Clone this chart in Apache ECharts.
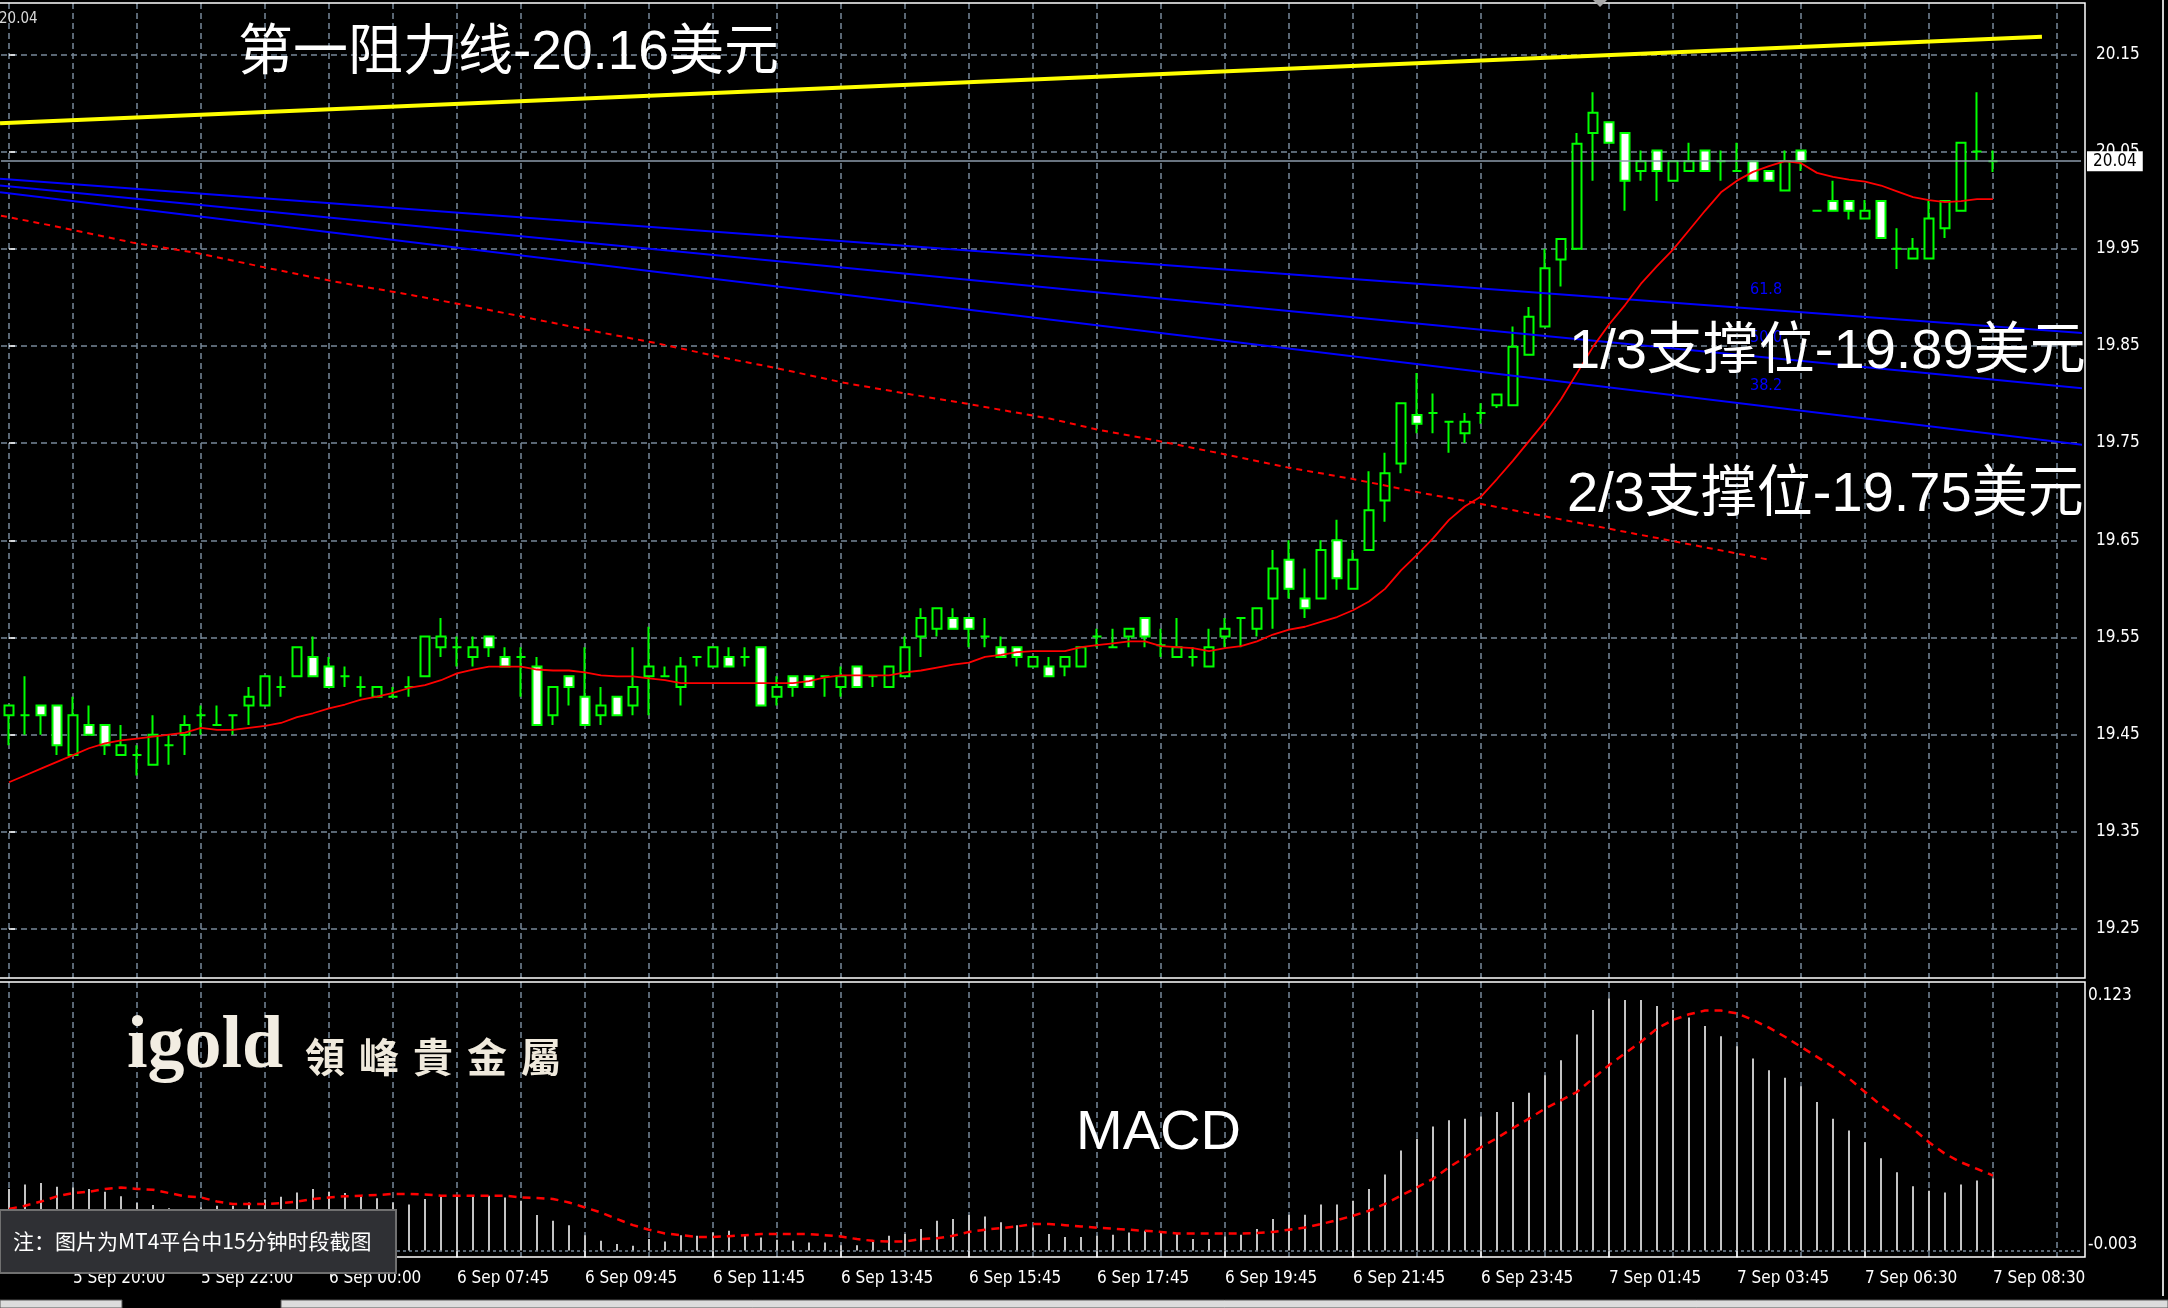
<!DOCTYPE html>
<html><head><meta charset="utf-8">
<script src="https://cdn.jsdelivr.net/npm/echarts@6/dist/echarts.min.js"></script>
<style>html,body{margin:0;padding:0;background:#000;}#c{width:2168px;height:1308px;}</style>
</head><body><div id="c"></div>
<script>
// ---------------- data ----------------
const timeLabels = ['5 Sep 20:00','5 Sep 22:00','6 Sep 00:00','6 Sep 07:45','6 Sep 09:45','6 Sep 11:45','6 Sep 13:45','6 Sep 15:45','6 Sep 17:45','6 Sep 19:45','6 Sep 21:45','6 Sep 23:45','7 Sep 01:45','7 Sep 03:45','7 Sep 06:30','7 Sep 08:30'];
const labelFirst = 4, labelStep = 8, nCats = 130;
const priceTicks = [19.25,19.35,19.45,19.55,19.65,19.75,19.85,19.95,20.05,20.15];
const priceMin = 19.1996, priceMax = 20.2028;
const currentPrice = 20.04;
const macdMin = -0.003, macdMax = 0.123;
const macdLabels = [0.123, -0.003];
// [open, close, low, high]
const candles = [
[19.470,19.480,19.439,19.480],[19.470,19.470,19.450,19.510],[19.480,19.470,19.450,19.480],[19.480,19.439,19.429,19.480],
[19.429,19.470,19.429,19.489],[19.460,19.450,19.450,19.480],[19.460,19.439,19.429,19.460],[19.429,19.439,19.429,19.460],
[19.429,19.429,19.408,19.439],[19.419,19.450,19.419,19.470],[19.439,19.439,19.419,19.450],[19.450,19.460,19.429,19.470],
[19.470,19.470,19.450,19.480],[19.460,19.460,19.460,19.480],[19.470,19.470,19.450,19.470],[19.480,19.489,19.460,19.499],
[19.480,19.510,19.480,19.510],[19.499,19.499,19.489,19.510],[19.510,19.540,19.510,19.540],[19.530,19.510,19.510,19.551],
[19.520,19.499,19.499,19.530],[19.510,19.510,19.499,19.520],[19.499,19.499,19.489,19.510],[19.489,19.499,19.489,19.499],
[19.489,19.489,19.489,19.499],[19.499,19.499,19.489,19.510],[19.510,19.551,19.510,19.551],[19.540,19.551,19.530,19.570],
[19.540,19.540,19.520,19.551],[19.530,19.540,19.520,19.551],[19.551,19.540,19.530,19.551],[19.530,19.520,19.520,19.540],
[19.530,19.530,19.489,19.540],[19.520,19.460,19.460,19.530],[19.470,19.499,19.460,19.499],[19.510,19.499,19.480,19.510],
[19.489,19.460,19.460,19.540],[19.470,19.480,19.460,19.499],[19.489,19.470,19.470,19.489],[19.480,19.499,19.470,19.540],
[19.510,19.520,19.470,19.561],[19.510,19.510,19.510,19.520],[19.499,19.520,19.480,19.530],[19.530,19.530,19.520,19.530],
[19.520,19.540,19.520,19.540],[19.530,19.520,19.520,19.540],[19.530,19.530,19.520,19.540],[19.540,19.480,19.480,19.540],
[19.489,19.499,19.480,19.510],[19.510,19.499,19.489,19.510],[19.510,19.499,19.499,19.510],[19.510,19.510,19.489,19.510],
[19.499,19.510,19.489,19.520],[19.520,19.499,19.499,19.520],[19.510,19.510,19.499,19.510],[19.499,19.520,19.499,19.520],
[19.510,19.540,19.510,19.551],[19.551,19.570,19.530,19.580],[19.559,19.580,19.551,19.580],[19.570,19.559,19.559,19.580],
[19.570,19.559,19.540,19.570],[19.551,19.551,19.540,19.570],[19.540,19.530,19.530,19.551],[19.540,19.530,19.520,19.540],
[19.520,19.530,19.520,19.530],[19.520,19.510,19.510,19.530],[19.520,19.530,19.510,19.530],[19.520,19.540,19.520,19.540],
[19.551,19.551,19.540,19.559],[19.540,19.540,19.540,19.559],[19.551,19.559,19.540,19.559],[19.570,19.551,19.540,19.570],
[19.542,19.542,19.530,19.559],[19.530,19.540,19.530,19.570],[19.530,19.530,19.520,19.540],[19.520,19.540,19.520,19.559],
[19.551,19.559,19.540,19.570],[19.570,19.570,19.540,19.570],[19.559,19.580,19.551,19.580],[19.590,19.621,19.559,19.640],
[19.630,19.600,19.590,19.650],[19.590,19.580,19.570,19.621],[19.590,19.640,19.590,19.650],[19.650,19.611,19.599,19.671],
[19.600,19.630,19.600,19.640],[19.640,19.681,19.640,19.721],[19.691,19.719,19.669,19.740],[19.729,19.791,19.719,19.791],
[19.779,19.770,19.760,19.822],[19.781,19.781,19.760,19.801],[19.772,19.772,19.740,19.772],[19.760,19.772,19.750,19.781],
[19.781,19.781,19.770,19.791],[19.789,19.800,19.786,19.800],[19.789,19.849,19.789,19.870],[19.841,19.880,19.841,19.890],
[19.870,19.930,19.870,19.950],[19.939,19.960,19.911,19.960],[19.950,20.058,19.950,20.069],[20.069,20.090,20.020,20.111],
[20.080,20.059,20.059,20.080],[20.069,20.020,19.989,20.069],[20.030,20.040,20.020,20.051],[20.051,20.030,19.999,20.051],
[20.020,20.040,20.020,20.040],[20.030,20.040,20.030,20.059],[20.051,20.030,20.030,20.051],[20.040,20.040,20.020,20.051],
[20.030,20.030,20.030,20.059],[20.040,20.020,20.020,20.040],[20.030,20.020,20.020,20.030],[20.010,20.040,20.010,20.051],
[20.051,20.040,20.030,20.051],[19.989,19.989,19.989,19.989],[19.999,19.989,19.989,20.020],[19.999,19.989,19.980,19.999],
[19.981,19.989,19.981,20.000],[19.999,19.961,19.961,19.999],[19.950,19.950,19.929,19.971],[19.940,19.950,19.940,19.961],
[19.940,19.981,19.940,19.999],[19.971,19.999,19.961,19.999],[19.989,20.059,19.989,20.059],[20.050,20.050,20.041,20.111],
[20.040,20.040,20.029,20.051]
];
const maLine = [
19.401,19.408,19.415,19.422,19.429,19.436,19.441,19.444,19.446,19.448,19.450,19.452,19.457,19.455,19.455,19.457,
19.459,19.462,19.468,19.472,19.477,19.481,19.486,19.489,19.493,19.498,19.501,19.506,19.513,19.517,19.520,19.520,
19.520,19.517,19.516,19.516,19.514,19.511,19.510,19.510,19.508,19.506,19.503,19.503,19.503,19.503,19.503,19.503,
19.503,19.503,19.505,19.509,19.511,19.511,19.511,19.511,19.514,19.516,19.519,19.522,19.524,19.530,19.532,19.535,
19.536,19.536,19.536,19.540,19.542,19.544,19.546,19.546,19.541,19.540,19.539,19.536,19.539,19.541,19.546,19.553,
19.558,19.561,19.566,19.571,19.578,19.587,19.600,19.619,19.635,19.652,19.671,19.685,19.695,19.713,19.732,19.752,
19.772,19.795,19.822,19.849,19.872,19.892,19.914,19.932,19.949,19.969,19.989,20.008,20.020,20.029,20.035,20.040,
20.038,20.028,20.024,20.021,20.019,20.015,20.009,20.003,20.000,19.998,19.999,20.001,20.001
];
// long moving average (dashed red), [barIndex, price]
const longMa = [[-0.5,19.984],[2.6,19.974],[7.8,19.956],[11.6,19.946],[16.2,19.930],[20.4,19.916],[24.6,19.904],
[28.8,19.891],[32.1,19.880],[36.3,19.866],[40.4,19.853],[44.6,19.838],[48,19.827],[52.2,19.812],[56.4,19.800],
[59.7,19.791],[65.1,19.775],[68,19.764],[71.9,19.752],[76.1,19.738],[79.9,19.725],[84,19.713],[88.2,19.699],
[91.8,19.688],[110,19.630]];
const resistanceLine = [[-0.56,20.079],[127.06,20.168]];
const fan618 = [[-0.56,20.022],[129.75,19.863]];
const fan500 = [[-0.56,20.015],[129.75,19.806]];
const fan382 = [[-0.56,20.008],[129.75,19.748]];
const macdHist = [
0.0282,0.0302,0.0309,0.0292,0.0288,0.0282,0.0269,0.0248,0.0217,0.0208,0.0193,0.0190,0.0197,0.0205,0.0205,0.0220,
0.0233,0.0246,0.0266,0.0282,0.0269,0.0263,0.0248,0.0239,0.0220,0.0210,0.0236,0.0251,0.0251,0.0251,0.0251,0.0243,
0.0228,0.0162,0.0136,0.0116,0.0070,0.0044,0.0029,0.0021,0.0052,0.0041,0.0070,0.0067,0.0082,0.0090,0.0075,0.0059,
0.0049,0.0044,0.0036,0.0036,0.0024,0.0024,0.0039,0.0067,0.0075,0.0098,0.0136,0.0144,0.0162,0.0156,0.0129,0.0116,
0.0105,0.0075,0.0062,0.0062,0.0067,0.0072,0.0082,0.0090,0.0085,0.0075,0.0052,0.0052,0.0064,0.0072,0.0098,0.0144,
0.0164,0.0164,0.0210,0.0210,0.0228,0.0282,0.0348,0.0458,0.0512,0.0568,0.0596,0.0604,0.0614,0.0634,0.0680,0.0723,
0.0803,0.0872,0.0990,0.1102,0.1155,0.1148,0.1148,0.1120,0.1102,0.1067,0.1028,0.0982,0.0936,0.0880,0.0826,0.0791,
0.0752,0.0680,0.0604,0.0550,0.0496,0.0423,0.0358,0.0294,0.0274,0.0266,0.0302,0.0320,0.0331
];
const macdSignal = [
0.0190,0.0205,0.0224,0.0248,0.0263,0.0269,0.0282,0.0288,0.0282,0.0278,0.0263,0.0248,0.0243,0.0224,0.0213,0.0213,
0.0213,0.0217,0.0224,0.0236,0.0243,0.0248,0.0251,0.0254,0.0259,0.0259,0.0256,0.0251,0.0251,0.0251,0.0251,0.0251,
0.0243,0.0240,0.0236,0.0220,0.0197,0.0174,0.0144,0.0116,0.0095,0.0078,0.0070,0.0062,0.0062,0.0065,0.0070,0.0075,
0.0075,0.0075,0.0075,0.0070,0.0064,0.0052,0.0044,0.0041,0.0041,0.0052,0.0056,0.0067,0.0085,0.0095,0.0102,0.0110,
0.0121,0.0121,0.0116,0.0110,0.0104,0.0100,0.0095,0.0090,0.0085,0.0078,0.0078,0.0078,0.0078,0.0078,0.0080,0.0085,
0.0095,0.0105,0.0121,0.0139,0.0159,0.0182,0.0213,0.0251,0.0289,0.0328,0.0381,0.0427,0.0473,0.0515,0.0561,0.0604,
0.0650,0.0688,0.0726,0.0788,0.0849,0.0903,0.0956,0.1017,0.1056,0.1082,0.1099,0.1099,0.1086,0.1056,0.1021,0.0979,
0.0933,0.0887,0.0841,0.0788,0.0726,0.0665,0.0611,0.0558,0.0496,0.0443,0.0404,0.0374,0.0343
];
const logoChars = ['領','峰','貴','金','屬'];

// ---------------- chart ----------------
const AXF = '"DejaVu Sans Condensed", "DejaVu Sans", sans-serif';
const BIGF = '"Liberation Sans", "Noto Sans CJK SC", sans-serif';
const GRIDC = '#778899';
const cats = Array.from({length: nCats}, (_, i) => String(i));
const isLabelIdx = i => i >= labelFirst && (i - labelFirst) % labelStep === 0 && ((i - labelFirst) / labelStep) < timeLabels.length;
const gridCols = Array.from({length: 33}, (_, k) => 4 * k);

const chart = echarts.init(document.getElementById('c'), null, {renderer: 'canvas', width: 2168, height: 1308});
const gridLine = {show: true, lineStyle: {color: GRIDC, type: [6, 4], width: 1.5}};

const logoGraphics = logoChars.map((ch, k) => ({type: 'text', z: 60, silent: true,
  style: {x: 305 + 54 * k, y: 1057, text: ch, fill: '#efe9dc', fontSize: 40, fontWeight: 'bold',
    fontFamily: '"Noto Sans CJK TC", sans-serif', textVerticalAlign: 'middle', shadowBlur: 6, shadowColor: '#8a5a2a'}}));

const option = {
  backgroundColor: '#000',
  animation: false,
  grid: [
    {left: 1, top: 3, width: 2080, height: 975},
    {left: 1, top: 982, width: 2080, height: 275}
  ],
  xAxis: [
    {type: 'category', gridIndex: 0, data: cats, position: 'bottom', axisLine: {show: false}, axisTick: {show: false}, axisLabel: {show: false}, splitLine: {show: false}},
    {type: 'value', gridIndex: 0, min: -0.5, max: 129.5, position: 'top', axisLine: {show: false}, axisTick: {show: false, customValues: gridCols}, axisLabel: {show: false}, splitLine: gridLine},
    {type: 'category', gridIndex: 1, data: cats, position: 'bottom', axisLine: {show: false},
      axisTick: {show: true, alignWithLabel: true, interval: (i) => isLabelIdx(i), length: 7, lineStyle: {color: '#fff', width: 1.5}},
      axisLabel: {show: true, interval: (i) => isLabelIdx(i), formatter: (v, i) => isLabelIdx(Number(v)) ? timeLabels[(Number(v) - labelFirst) / labelStep] : '',
        align: 'left', margin: 13, color: '#fff', fontSize: 17, fontFamily: AXF},
      splitLine: {show: false}},
    {type: 'value', gridIndex: 1, min: -0.5, max: 129.5, position: 'top', axisLine: {show: false}, axisTick: {show: false, customValues: gridCols}, axisLabel: {show: false}, splitLine: gridLine}
  ],
  yAxis: [
    {type: 'value', gridIndex: 0, position: 'right', offset: 4, min: priceMin, max: priceMax,
      axisLine: {show: false},
      axisTick: {show: true, customValues: priceTicks, length: 6, lineStyle: {color: '#fff', width: 1.5}},
      axisLabel: {customValues: priceTicks, formatter: v => v.toFixed(2), margin: 11, color: '#fff', fontSize: 17, fontFamily: AXF},
      splitLine: gridLine},
    {type: 'value', gridIndex: 1, position: 'right', offset: 4, min: macdMin, max: macdMax,
      axisLine: {show: false},
      axisTick: {show: false, customValues: [0]},
      axisLabel: {customValues: macdLabels, margin: 3, color: '#fff', fontSize: 17, fontFamily: AXF,
        formatter: v => v > 0 ? '{t|' + v.toFixed(3) + '}' : '{b|' + v.toFixed(3) + '}',
        rich: {t: {padding: [28, 0, 0, 0], fontSize: 17, fontFamily: AXF, color: '#fff'}, b: {padding: [0, 0, 24, 0], fontSize: 17, fontFamily: AXF, color: '#fff'}}},
      splitLine: {show: true, lineStyle: {color: GRIDC, type: [3, 3], width: 1.5}}}
  ],
  series: [
    {type: 'line', xAxisIndex: 0, yAxisIndex: 0, data: [], z: 1, silent: true,
      markLine: {silent: true, symbol: ['none', 'none'], lineStyle: {color: '#8c9bab', width: 1.5, type: 'solid'},
        label: {show: true, position: 'end', formatter: () => currentPrice.toFixed(2), color: '#000', backgroundColor: '#fff',
          padding: [2, 6, 1, 6], fontSize: 17, fontFamily: AXF, distance: 6},
        data: [{yAxis: currentPrice}]}},
    {type: 'candlestick', xAxisIndex: 0, yAxisIndex: 0, data: candles, barWidth: 9, z: 2,
      itemStyle: {color: '#000', color0: '#fff', borderColor: '#00ff00', borderColor0: '#00ff00', borderColorDoji: '#00ff00', borderWidth: 2}},
    {type: 'line', xAxisIndex: 0, yAxisIndex: 0, data: maLine, symbol: 'none', z: 4,
      lineStyle: {color: '#ff0000', width: 1.8}},
    {type: 'line', xAxisIndex: 1, yAxisIndex: 0, data: longMa, symbol: 'none', z: 4, clip: false,
      lineStyle: {color: '#ff0000', width: 2, type: [6, 5]}},
    {type: 'line', xAxisIndex: 1, yAxisIndex: 0, data: resistanceLine, symbol: 'none', z: 4, clip: false,
      lineStyle: {color: '#ffff00', width: 4}},
    {type: 'line', xAxisIndex: 1, yAxisIndex: 0, data: fan618, symbol: 'none', z: 3, clip: false,
      lineStyle: {color: '#0000ff', width: 2}},
    {type: 'line', xAxisIndex: 1, yAxisIndex: 0, data: fan500, symbol: 'none', z: 3, clip: false,
      lineStyle: {color: '#0000ff', width: 2}},
    {type: 'line', xAxisIndex: 1, yAxisIndex: 0, data: fan382, symbol: 'none', z: 3, clip: false,
      lineStyle: {color: '#0000ff', width: 2}},
    {type: 'bar', xAxisIndex: 2, yAxisIndex: 1, data: macdHist, barWidth: 2, itemStyle: {color: '#c4c4c4'}, z: 2},
    {type: 'line', xAxisIndex: 2, yAxisIndex: 1, data: macdSignal, symbol: 'none', z: 3,
      lineStyle: {color: '#ff0000', width: 2.5, type: [8, 6]}}
  ],
  graphic: [
    // pane frames
    {type: 'polyline', z: 50, silent: true, shape: {points: [[0, 3], [2085, 3], [2085, 978], [0, 978]]}, style: {stroke: '#fff', lineWidth: 1.5, fill: null}},
    {type: 'polyline', z: 50, silent: true, shape: {points: [[0, 982], [2085, 982], [2085, 1257], [0, 1257]]}, style: {stroke: '#fff', lineWidth: 1.5, fill: null}},
    {type: 'line', z: 50, silent: true, shape: {x1: 2163, y1: 0, x2: 2163, y2: 1296}, style: {stroke: '#cfcfcf', lineWidth: 2}},
    {type: 'polygon', z: 50, silent: true, shape: {points: [[1593, 0], [1607, 0], [1600, 7]]}, style: {fill: '#a8a8a8'}},
    {type: 'rect', z: 50, silent: true, shape: {x: 0, y: 1300, width: 122, height: 8}, style: {fill: '#dcdcdc', stroke: '#555', lineWidth: 1}},
    {type: 'rect', z: 50, silent: true, shape: {x: 281, y: 1300, width: 1887, height: 8}, style: {fill: '#dcdcdc', stroke: '#555', lineWidth: 1}},
    {type: 'text', z: 50, silent: true, style: {x: -1, y: 19, text: '20.04', fill: '#d8d8d8', fontSize: 15, fontFamily: AXF, textVerticalAlign: 'middle'}},
    // fib labels
    {type: 'text', z: 40, silent: true, style: {x: 1750, y: 290, text: '61.8', fill: '#0000ff', fontSize: 16, fontFamily: AXF, textVerticalAlign: 'middle'}},
    {type: 'text', z: 40, silent: true, style: {x: 1750, y: 338, text: '50.0', fill: '#0000ff', fontSize: 16, fontFamily: AXF, textVerticalAlign: 'middle'}},
    {type: 'text', z: 40, silent: true, style: {x: 1750, y: 386, text: '38.2', fill: '#0000ff', fontSize: 16, fontFamily: AXF, textVerticalAlign: 'middle'}},
    // annotations
    {type: 'text', z: 60, silent: true, style: {x: 238, y: 54, text: '第一阻力线-20.16美元', fill: '#fff', fontSize: 55, fontFamily: BIGF, textVerticalAlign: 'middle'}},
    {type: 'text', z: 60, silent: true, style: {x: 1569, y: 353, text: '1/3支撑位-19.89美元', fill: '#fff', fontSize: 56, fontFamily: BIGF, textVerticalAlign: 'middle'}},
    {type: 'text', z: 60, silent: true, style: {x: 1567, y: 496, text: '2/3支撑位-19.75美元', fill: '#fff', fontSize: 56, fontFamily: BIGF, textVerticalAlign: 'middle'}},
    {type: 'text', z: 60, silent: true, style: {x: 1076, y: 1134, text: 'MACD', fill: '#fff', fontSize: 56, fontFamily: BIGF, textVerticalAlign: 'middle'}},
    // logo
    {type: 'text', z: 60, silent: true, style: {x: 127, y: 1048, text: 'igold', fill: '#f2ede2', fontSize: 74, fontWeight: 'bold', fontFamily: '"Liberation Serif", "DejaVu Serif", serif', textVerticalAlign: 'middle', shadowBlur: 8, shadowColor: '#8a5a2a'}},
    ...logoGraphics,
    // note box
    {type: 'rect', z: 70, silent: true, shape: {x: 0, y: 1210, width: 396, height: 63}, style: {fill: '#2f3034', stroke: '#707070', lineWidth: 2}},
    {type: 'text', z: 71, silent: true, style: {x: 13, y: 1241, text: '注：图片为MT4平台中15分钟时段截图', fill: '#fff', fontSize: 21, fontFamily: '"Noto Sans CJK SC", sans-serif', textVerticalAlign: 'middle'}}
  ]
};
chart.setOption(option);
</script>
</body></html>
